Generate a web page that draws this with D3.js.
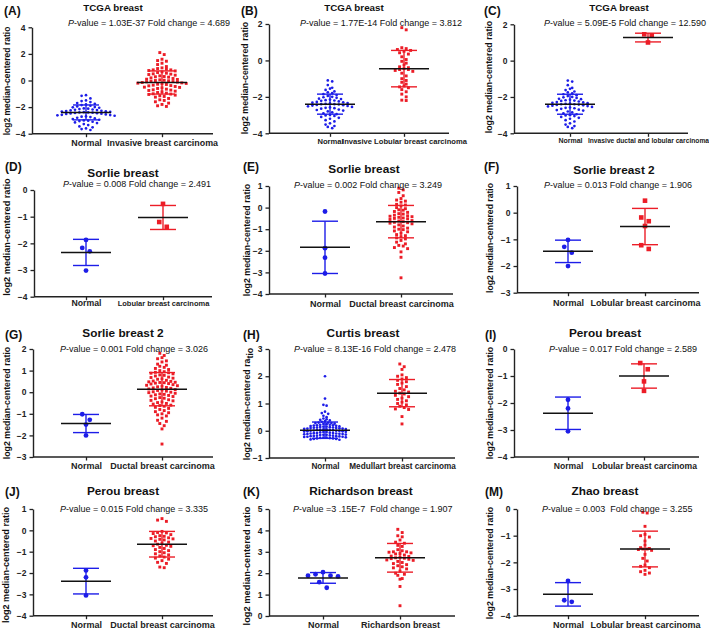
<!DOCTYPE html>
<html>
<head>
<meta charset="utf-8">
<script src="https://cdn.jsdelivr.net/npm/d3@7"></script>
<style>
body { margin: 0; background: #fff; }
svg text { font-family: "Liberation Sans", Arial, sans-serif; }
</style>
</head>
<body>
<svg id="fig" width="709" height="631"></svg>
<script>
// ---- chart text ----
var letters = ["(A)", "(B)", "(C)", "(D)", "(E)", "(F)", "(G)", "(H)", "(I)", "(J)", "(K)", "(M)"];
var titles = ["TCGA breast", "TCGA breast", "TCGA breast", "Sorlie breast", "Sorlie breast", "Sorlie breast 2",
              "Sorlie breast 2", "Curtis breast", "Perou breast", "Perou breast", "Richardson breast", "Zhao breast"];
var statTexts = ["-value = 1.03E-37 Fold change = 4.689", "-value = 1.77E-14 Fold change = 3.812",
                 "-value = 5.09E-5 Fold change = 12.590", "-value = 0.008 Fold change = 2.491",
                 "-value = 0.002 Fold change = 3.249", "-value = 0.013 Fold change = 1.906",
                 "-value = 0.001 Fold change = 3.026", "-value = 8.13E-16 Fold change = 2.478",
                 "-value = 0.017 Fold change = 2.589", "-value = 0.015 Fold change = 3.335",
                 "-value =3 .15E-7  Fold change = 1.907", "-value = 0.003  Fold change = 3.255"];
var tumorLabels = ["Invasive breast carcinoma", "Invasive Lobular breast carcinoma", "Invasive ductal and lobular carcinoma",
                   "Lobular breast carcinoma", "Ductal breast carcinoma", "Lobular breast carcinoma",
                   "Ductal breast carcinoma", "Medullart breast carcinoma", "Lobular breast carcinoma",
                   "Ductal breast carcinoma", "Richardson breast", "Lobular breast carcinoma"];
var yDomains = [[-4, 4], [-4, 2], [-4, 2], [-4, 0], [-4, 1], [-3, 1], [-3, 2], [-1, 3], [-4, 0], [-4, 1], [0, 5], [-4, 0]];
var yTickSteps = [2, 2, 2, 1, 1, 1, 1, 1, 1, 1, 1, 1];

// ---- normal tissue values (log2 median-centered ratio) ----
var tcgaNormal = [-1.1, -1.15, -1.35, -1.5, -1.55, -1.62, -1.7, -1.75, -1.8, -1.85, -1.9, -1.95,
                  -2.0, -2.02, -2.05, -2.1, -2.12, -2.15, -2.18, -2.2, -2.22, -2.25, -2.28,
                  -2.3, -2.32, -2.34, -2.36, -2.38, -2.4, -2.4, -2.42, -2.44, -2.46, -2.48, -2.5, -2.52, -2.55, -2.58,
                  -2.6, -2.62, -2.65, -2.7, -2.72, -2.75, -2.8, -2.85, -2.9, -2.95,
                  -3.0, -3.02, -3.05, -3.1, -3.15, -3.2, -3.28, -3.35, -3.45, -3.52, -3.6, -3.65, -3.72];
var sorlieNormalD = [-1.87, -2.17, -2.3, -3.02];
var sorlieNormalE = [-0.18, -1.88, -2.32, -3.05];
var sorlie2Normal = [-1.02, -1.28, -1.5, -2.0];
var curtisNormal = [2.0, 1.18, 0.95, 0.92, 0.7, 0.65, 0.62, 0.55, 0.5, 0.45, 0.42, 0.4, 0.38, 0.35, 0.33,
                    0.3, 0.3, 0.28, 0.28, 0.26, 0.25, 0.24, 0.22, 0.22, 0.2, 0.2, 0.19, 0.18, 0.17, 0.16, 0.15, 0.15,
                    0.14, 0.13, 0.12, 0.12, 0.11, 0.1, 0.1, 0.09, 0.08, 0.08, 0.07, 0.06, 0.05, 0.05, 0.04, 0.03,
                    0.03, 0.02, 0.01, 0.0, 0.0, -0.01, -0.02, -0.02, -0.03, -0.04, -0.05, -0.05, -0.06, -0.07,
                    -0.08, -0.08, -0.09, -0.1, -0.1, -0.11, -0.12, -0.12, -0.13, -0.14, -0.15, -0.15, -0.16, -0.17,
                    -0.18, -0.18, -0.19, -0.2, -0.2, -0.21, -0.22, -0.22, -0.23, -0.24, -0.25, -0.25, -0.26, -0.27,
                    -0.28, -0.28, -0.3, -0.3, -0.32, -0.33];
var perouNormal = [-1.88, -2.2, -3.05];
var richardsonNormal = [2.05, 1.95, 1.88, 1.88, 1.85, 1.58, 1.32];
var zhaoNormal = [-2.7, -3.42, -3.48];

// ---- tumour values ----
var tcgaInvasive = [2.1, 1.95, 1.6, 1.5, 1.45, 1.3, 1.2, 1.05, 0.95, 0.9, 0.85, 0.8, 0.8, 0.75, 0.72,
                    0.65, 0.6, 0.55, 0.5, 0.48, 0.45, 0.4, 0.35, 0.3, 0.28, 0.25, 0.2,
                    0.15, 0.1, 0.08, 0.05, 0.02, 0.0, -0.02, -0.05, -0.08, -0.1, -0.12, -0.15, -0.18, -0.2, -0.22, -0.25, -0.28,
                    -0.3, -0.35, -0.38, -0.4, -0.45, -0.5, -0.52, -0.55, -0.6, -0.65, -0.7, -0.72, -0.75, -0.8,
                    -0.85, -0.9, -0.95, -1.0, -1.02, -1.05, -1.1, -1.15, -1.2, -1.25,
                    -1.35, -1.45, -1.5, -1.6, -1.7, -1.8, -1.9, -1.95];
var tcgaLobular = [1.8, 1.68, 0.7, 0.65, 0.6, 0.55, 0.5, 0.42, 0.35, 0.2, 0.05, -0.05, -0.15, -0.25, -0.35, -0.4,
                   -0.45, -0.5, -0.5, -0.55, -0.6, -0.7, -0.85, -1.0, -1.1, -1.2, -1.3, -1.4, -1.45, -1.5, -1.6,
                   -1.72, -1.85, -2.0, -2.18, -2.2];
var tcgaDuctalLobular = [1.45, 1.38, 1.0];
var sorlieLobular = [-0.52, -1.2, -1.38];
var sorlieDuctal = [0.9, 0.82, 0.7, 0.55, 0.42, 0.35, 0.3, 0.25, 0.15, 0.12, 0.08, 0.0, -0.05, -0.1, -0.12, -0.18,
                    -0.22, -0.28, -0.3, -0.35, -0.38, -0.4, -0.42, -0.45, -0.48, -0.5, -0.52, -0.55, -0.6, -0.62,
                    -0.65, -0.68, -0.7, -0.72, -0.75, -0.8, -0.85, -0.9, -0.95, -1.0, -1.02, -1.08, -1.12, -1.18,
                    -1.25, -1.3, -1.35, -1.4, -1.45, -1.52, -1.6, -1.68, -1.75, -1.78, -1.85, -1.9, -2.05, -2.3, -3.25];
var sorlie2Lobular = [0.45, -0.18, -0.32, -0.5, -1.22, -1.36];
var sorlie2Ductal = [1.8, 1.7, 1.6, 1.55, 1.45, 1.4, 1.3, 1.25, 1.2, 1.15, 1.1, 1.05, 1.0,
                     0.95, 0.92, 0.9, 0.88, 0.85, 0.8, 0.78, 0.75, 0.7, 0.68, 0.65, 0.62, 0.6, 0.55, 0.52,
                     0.5, 0.48, 0.46, 0.45, 0.44, 0.42, 0.4, 0.38, 0.35, 0.32, 0.3, 0.28, 0.25, 0.22, 0.2, 0.18,
                     0.15, 0.12, 0.1, 0.08, 0.05, 0.02, 0.0, -0.02, -0.05, -0.08, -0.1, -0.12, -0.15, -0.18, -0.2,
                     -0.25, -0.28, -0.3, -0.35, -0.38, -0.4, -0.45, -0.48, -0.52, -0.55, -0.6, -0.62, -0.65, -0.7,
                     -0.75, -0.8, -0.85, -0.9, -0.95, -1.0, -1.05, -1.1, -1.2, -1.3, -1.35, -1.45, -1.55, -1.7, -2.4];
var curtisMedullary = [2.45, 2.35, 2.25, 2.05, 2.0, 1.95, 1.9, 1.85, 1.8, 1.75, 1.7, 1.62, 1.55, 1.5, 1.45, 1.42,
                       1.38, 1.35, 1.3, 1.25, 1.2, 1.15, 1.1, 1.05, 1.0, 0.95, 0.9, 0.85, 0.8, 0.78, 0.52, 0.25];
var perouLobular = [-0.52, -0.75, -1.2, -1.55];
var perouDuctal = [0.55, 0.48, 0.42, -0.05, -0.1, -0.12, -0.15, -0.2, -0.25, -0.28, -0.3, -0.35, -0.38, -0.4, -0.42,
                   -0.45, -0.5, -0.55, -0.6, -0.65, -0.7, -0.72, -0.75, -0.8, -0.85, -0.9, -0.95, -1.0, -1.05, -1.1,
                   -1.15, -1.2, -1.25, -1.3, -1.35, -1.42, -1.5, -1.55, -1.72, -1.75];
var richardsonTumor = [4.05, 3.9, 3.75, 3.7, 3.55, 3.45, 3.4, 3.3, 3.25, 3.1, 3.05, 3.0, 3.0, 2.98, 2.95, 2.92, 2.9,
                       2.85, 2.8, 2.78, 2.75, 2.72, 2.7, 2.68, 2.65, 2.62, 2.6, 2.55, 2.5, 2.45, 2.4, 2.35, 2.3,
                       2.25, 2.2, 2.1, 2.0, 1.95, 1.9, 1.75, 1.72, 1.38, 0.48];
var zhaoLobular = [-0.12, -0.15, -0.65, -0.95, -1.0, -1.05, -1.2, -1.35, -1.45, -1.48, -1.5, -1.5, -1.52, -1.55,
                   -1.7, -1.85, -1.95, -2.1, -2.15, -2.2, -2.3, -2.35, -2.4, -2.45];

var normalSets = [tcgaNormal, tcgaNormal, tcgaNormal, sorlieNormalD, sorlieNormalE, sorlie2Normal,
                  sorlie2Normal, curtisNormal, perouNormal, perouNormal, richardsonNormal, zhaoNormal];
var tumorSets = [tcgaInvasive, tcgaLobular, tcgaDuctalLobular, sorlieLobular, sorlieDuctal, sorlie2Lobular,
                 sorlie2Ductal, curtisMedullary, perouLobular, perouDuctal, richardsonTumor, zhaoLobular];

// mean and SD bars
var normalMean = [-2.4, -2.4, -2.4, -2.34, -1.84, -1.45, -1.45, 0.02, -2.38, -2.38, 1.78, -3.2];
var normalSd   = [0.56, 0.55, 0.55, 0.49, 1.21, 0.42, 0.42, 0.3, 0.6, 0.6, 0.25, 0.44];
var tumorMean  = [-0.15, -0.45, 1.27, -1.03, -0.65, -0.52, 0.14, 1.38, -1.0, -0.65, 2.72, -1.5];
var tumorSd    = [0.87, 1.0, 0.24, 0.45, 0.75, 0.68, 0.77, 0.5, 0.45, 0.6, 0.67, 0.67];

// ---- layout (pixel positions of each panel) ----
var layout = [
    {x0: 32,  x1: 213, xn: 86,  xt: 162, yT: 27.3, yB: 133.7, lt: [4, 14.5],   ti: [113, 10.5, 9.8],  pv: [68, 26],     xl: [146, 8.9, 8.9],   yl: [10, 81, 8.5]},
    {x0: 269, x1: 449, xn: 330, xt: 404, yT: 24,   yB: 133.3, lt: [241, 15],   ti: [354, 10.5, 9.8],  pv: [300, 25.5],  xl: [144, 7.6, 7.6],   yl: [248, 78, 8.8]},
    {x0: 514, x1: 688, xn: 570, xt: 648, yT: 24.3, yB: 133.3, lt: [484, 15],   ti: [619, 10.5, 9.8],  pv: [544, 26],    xl: [143, 7, 6.7],     yl: [492, 77, 8.8]},
    {x0: 34,  x1: 212, xn: 86,  xt: 163, yT: 190,  yB: 296.7, lt: [5, 171],    ti: [123, 176.5, 11.8], pv: [63, 187],   xl: [306.5, 8.7, 7.5], yl: [10, 237, 9.2]},
    {x0: 269, x1: 453, xn: 325, xt: 401, yT: 186,  yB: 294,   lt: [243, 171],  ti: [364, 173, 11.8],  pv: [294, 187.5], xl: [306.5, 9, 9],     yl: [250, 240, 8.8]},
    {x0: 517, x1: 699, xn: 568, xt: 645, yT: 186,  yB: 292.7, lt: [484, 171],  ti: [614, 173.5, 11.8], pv: [544, 188],  xl: [306.5, 9, 9],     yl: [493, 238, 8.6]},
    {x0: 33,  x1: 213, xn: 86,  xt: 162, yT: 349,  yB: 457,   lt: [5, 339],    ti: [123, 336.5, 11.8], pv: [60, 351.5], xl: [468.5, 9, 9],     yl: [10, 403, 8.8]},
    {x0: 269, x1: 455, xn: 325, xt: 402, yT: 349,  yB: 458,   lt: [243, 339],  ti: [363, 336.5, 11.8], pv: [294, 351.5], xl: [468.5, 8.2, 8.2], yl: [250, 404, 8.8]},
    {x0: 514, x1: 699, xn: 568, xt: 644, yT: 349,  yB: 457,   lt: [485, 339],  ti: [605, 336.5, 11.8], pv: [549, 351.5], xl: [468.5, 8.6, 8.6], yl: [493, 403, 8.8]},
    {x0: 33,  x1: 213, xn: 86,  xt: 162, yT: 509,  yB: 615.7, lt: [5, 496],    ti: [123, 495, 11.8],  pv: [60, 511.5],  xl: [628, 9, 9],       yl: [9, 565, 9.1]},
    {x0: 269, x1: 455, xn: 323, xt: 400, yT: 509,  yB: 616,   lt: [243, 496],  ti: [361, 495, 11.8],  pv: [293, 511.5], xl: [628, 9, 9],       yl: [250, 566, 9.3]},
    {x0: 517, x1: 699, xn: 568, xt: 645, yT: 509,  yB: 615.7, lt: [485, 496],  ti: [605, 495, 11.8],  pv: [542, 511.5], xl: [628, 9, 9],       yl: [493, 563, 8.8]}
];

var blue = "#1d1de8", red = "#ec1d27", axisColor = "#222";

// place points of one group in horizontal rows (scatter dot plot style)
function swarm(vals, y, h, sp) {
    var pts = vals.map(function(v) { return {v: v, py: y(v)}; })
        .sort(function(a, b) { return a.py - b.py; });
    var rows = [], cur = null;
    pts.forEach(function(p) {
        if (!cur || p.py - cur[0].py > h) { cur = [p]; rows.push(cur); }
        else cur.push(p);
    });
    rows.forEach(function(r) {
        var n = r.length;
        var slots = d3.range(n).map(function(i) { return (i - (n - 1) / 2) * sp; })
            .sort(function(a, b) { return Math.abs(a) - Math.abs(b) || a - b; });
        r.forEach(function(p, i) { p.dx = slots[i]; });
    });
    return pts;
}

var svg = d3.select("#fig");
var fmt = d3.format("d");

layout.forEach(function(L, i) {
    var g = svg.append("g");
    var y = d3.scaleLinear().domain(yDomains[i]).range([L.yB, L.yT]);
    var x = d3.scalePoint().domain(["Normal", tumorLabels[i]]).range([L.xn, L.xt]);

    // y axis
    var ticks = d3.range(yDomains[i][0], yDomains[i][1] + 0.001, yTickSteps[i]);
    g.append("g")
        .attr("transform", "translate(" + L.x0 + ",0)")
        .call(d3.axisLeft(y).tickValues(ticks).tickFormat(fmt).tickSize(3.5).tickPadding(3).tickSizeOuter(0))
        .call(function(a) {
            a.select(".domain").attr("stroke", axisColor).attr("stroke-width", 1.4);
            a.selectAll(".tick line").attr("stroke", axisColor).attr("stroke-width", 1.3);
            a.selectAll(".tick text").attr("font-size", 8.5).attr("font-weight", "bold")
                .attr("fill", "#222").style("font-family", "Liberation Sans, Arial, sans-serif");
        });

    // x axis
    var xa = g.append("g")
        .attr("transform", "translate(0," + L.yB + ")")
        .call(d3.axisBottom(x).tickSize(3.5).tickSizeOuter(0));
    xa.select(".domain").remove();
    xa.append("line").attr("x1", L.x0).attr("x2", L.x1)
        .attr("stroke", axisColor).attr("stroke-width", 1.4);
    xa.selectAll(".tick line").attr("stroke", axisColor).attr("stroke-width", 1.3);
    xa.selectAll(".tick text")
        .attr("y", L.xl[0] - L.yB).attr("dy", null)
        .attr("font-size", function(d, k) { return k === 0 ? L.xl[1] : L.xl[2]; })
        .attr("font-weight", "bold").attr("fill", "#222")
        .style("font-family", "Liberation Sans, Arial, sans-serif");

    // points
    var groups = [
        {key: "Normal", vals: normalSets[i], color: blue, shape: "circle", m: normalMean[i], s: normalSd[i]},
        {key: tumorLabels[i], vals: tumorSets[i], color: red, shape: "square", m: tumorMean[i], s: tumorSd[i]}
    ];
    groups.forEach(function(gr) {
        var small = gr.vals.length <= 7;
        var dense = i === 7 && gr.shape === "circle";
        var h = small ? 6.5 : (dense ? 2.6 : 3.6);
        var sp = small ? 7.5 : (dense ? 3.2 : 4.4);
        var pts = swarm(gr.vals, y, h, sp);
        var cx = x(gr.key);
        if (gr.shape === "circle") {
            var r = small ? 2.4 : 1.35;
            g.selectAll(null).data(pts).enter().append("circle")
                .attr("cx", function(d) { return cx + d.dx; })
                .attr("cy", function(d) { return d.py; })
                .attr("r", r).attr("fill", gr.color);
        } else {
            var sz = small ? 4.6 : 2.9;
            g.selectAll(null).data(pts).enter().append("rect")
                .attr("x", function(d) { return cx + d.dx - sz / 2; })
                .attr("y", function(d) { return d.py - sz / 2; })
                .attr("width", sz).attr("height", sz).attr("fill", gr.color);
        }
        // SD bars
        var hi = y(gr.m + gr.s), lo = y(gr.m - gr.s);
        g.append("line").attr("x1", cx).attr("x2", cx).attr("y1", hi).attr("y2", lo)
            .attr("stroke", gr.color).attr("stroke-width", 1.4);
        [hi, lo].forEach(function(yy) {
            g.append("line").attr("x1", cx - 13).attr("x2", cx + 13).attr("y1", yy).attr("y2", yy)
                .attr("stroke", gr.color).attr("stroke-width", 1.4);
        });
        // mean
        g.append("line").attr("x1", cx - 25).attr("x2", cx + 25)
            .attr("y1", y(gr.m)).attr("y2", y(gr.m))
            .attr("stroke", "#111").attr("stroke-width", 1.5);
    });

    // texts
    g.append("text").attr("x", L.lt[0]).attr("y", L.lt[1])
        .attr("font-size", 12).attr("font-weight", "bold").attr("fill", "#111")
        .text(letters[i]);
    g.append("text").attr("x", L.ti[0]).attr("y", L.ti[1]).attr("text-anchor", "middle")
        .attr("font-size", L.ti[2]).attr("font-weight", "bold").attr("fill", "#111")
        .text(titles[i]);
    var pt = g.append("text").attr("x", L.pv[0]).attr("y", L.pv[1])
        .attr("font-size", 9).attr("fill", "#111").style("white-space", "pre");
    pt.append("tspan").attr("font-style", "italic").text("P");
    pt.append("tspan").text(statTexts[i]);

    var yt = g.append("text")
        .attr("transform", "translate(" + L.yl[0] + "," + L.yl[1] + ") rotate(-90)")
        .attr("text-anchor", "middle").attr("font-size", L.yl[2]).attr("font-weight", "bold")
        .attr("fill", "#111");
    if (i === 7) {
        yt.append("tspan").text("log2 median-centered ra");
        yt.append("tspan").attr("dy", 3).text("tio");
    } else {
        yt.text("log2 median-centered ratio");
    }
});
</script>
</body>
</html>
